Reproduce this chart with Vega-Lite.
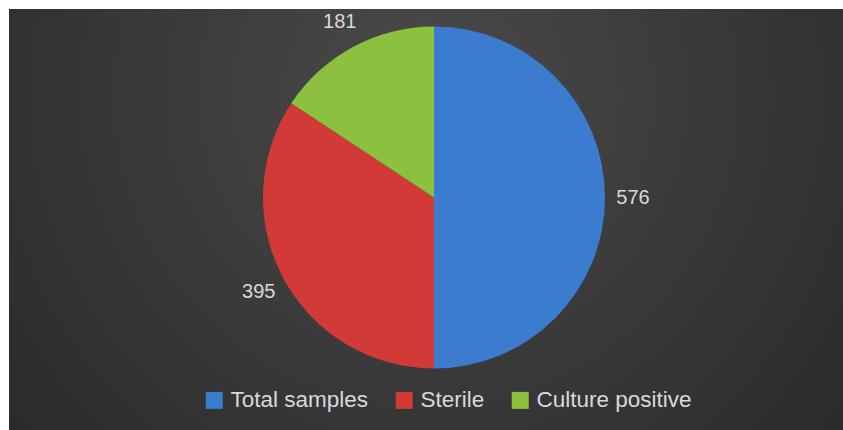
{
  "$schema": "https://vega.github.io/schema/vega-lite/v6.json",
  "autosize": {"type": "fit", "contains": "padding"},
  "width": 843,
  "height": 430,
  "padding": {"left": 9, "top": 9, "right": 0, "bottom": 0},
  "background": "#ffffff",
  "view": {
    "stroke": null,
    "cornerRadius": 0,
    "fill": {
      "gradient": "radial",
      "x1": 0.5, "y1": 0.35, "r1": 0,
      "x2": 0.5, "y2": 0.35, "r2": 0.75,
      "stops": [
        {"offset": 0, "color": "#4a4a4a"},
        {"offset": 1, "color": "#252525"}
      ]
    }
  },
  "data": {
    "values": [
      {"category": "Total samples", "value": 576},
      {"category": "Sterile", "value": 395},
      {"category": "Culture positive", "value": 181}
    ]
  },
  "encoding": {
    "theta": {"field": "value", "type": "quantitative", "stack": true},
    "order": {"field": "value", "type": "quantitative", "sort": "descending"},
    "color": {
      "field": "category",
      "type": "nominal",
      "sort": ["Total samples", "Sterile", "Culture positive"],
      "scale": {
        "domain": ["Total samples", "Sterile", "Culture positive"],
        "range": ["#3b7ccf", "#d23a38", "#8cc13f"]
      },
      "legend": {
        "title": null,
        "orient": "none",
        "direction": "horizontal",
        "legendX": 194,
        "legendY": 380,
        "symbolType": "square",
        "symbolSize": 289,
        "symbolOpacity": 1,
        "symbolStrokeWidth": 0,
        "labelFont": "Liberation Sans",
        "labelFontSize": 22.5,
        "labelColor": "#d9d9d9",
        "labelOffset": 5,
        "columnPadding": 24,
        "labelLimit": 300
      }
    }
  },
  "layer": [
    {
      "mark": {"type": "arc", "outerRadius": 171, "xOffset": 8, "yOffset": -22, "stroke": null}
    },
    {
      "mark": {
        "type": "text",
        "radius": 199,
        "xOffset": 8,
        "yOffset": -22,
        "font": "Liberation Sans",
        "fontSize": 20,
        "fill": "#d9d9d9"
      },
      "encoding": {
        "text": {"field": "value", "type": "quantitative"},
        "color": {"value": "#d9d9d9"}
      }
    }
  ]
}
